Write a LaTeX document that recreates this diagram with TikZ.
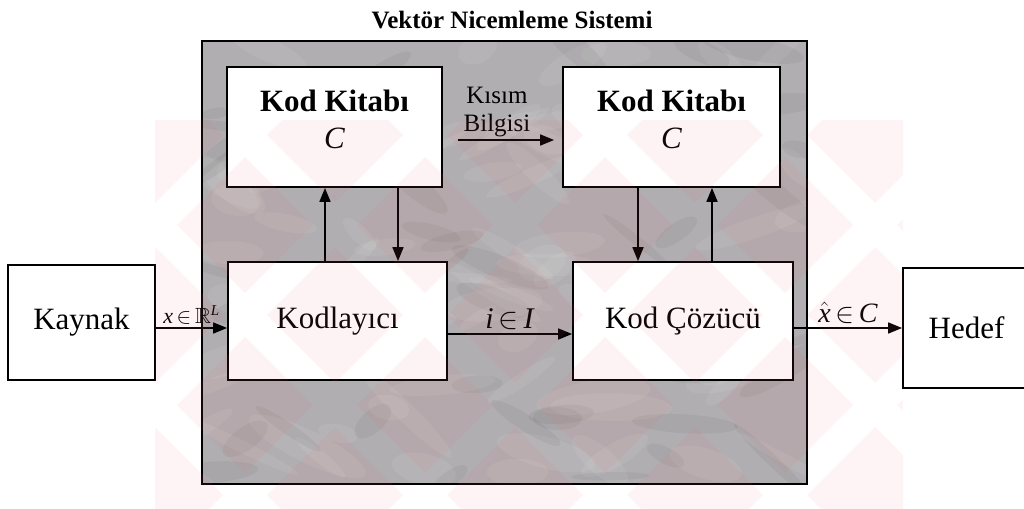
\RequirePackage{fix-cm}
\documentclass[tikz,border=0pt]{standalone}
\usepackage{amssymb}
\usepackage{fontspec}
\setmainfont{Liberation Serif}
\usetikzlibrary{arrows.meta,calc}

\definecolor{vqgray}{RGB}{176,174,176}
\definecolor{wmpink}{RGB}{240,110,125}

\begin{document}
\begin{tikzpicture}[x=1pt,y=-1pt,
  box/.style={draw,line width=1.8pt,fill=white,inner sep=0pt},
  reg/.style={font=\fontsize{31}{36}\selectfont},
  arr/.style={line width=1.7pt,-{Triangle[length=14pt,width=11pt]}},
  wm/.style={fill=wmpink,opacity=0.08},
]
\useasboundingbox (0,0) rectangle (1024,508);
\clip (0,0) rectangle (1024,508);

% title
\node[font=\bfseries\fontsize{25}{30}\selectfont] (title) at (512,20) {Vektör Nicemleme Sistemi};

% grey system frame with a mottled texture
\node[fill=vqgray,minimum width=605pt,minimum height=443pt,inner sep=0pt] (vq) at (504.5,262.5) {};
\begin{scope}
  \clip (vq.north west) rectangle (vq.south east);
  \pgfmathsetseed{11}
  \foreach \i in {1,...,90}{
    \pgfmathsetmacro\px{202+605*rnd}
    \pgfmathsetmacro\py{41+443*rnd}
    \pgfmathsetmacro\rx{20+45*rnd}
    \pgfmathsetmacro\ry{5+12*rnd}
    \pgfmathsetmacro\ang{-45+90*rnd}
    \fill[white,opacity=0.07,rotate around={\ang:(\px,\py)}] (\px,\py) ellipse ({\rx pt} and {\ry pt});
  }
  \foreach \i in {1,...,60}{
    \pgfmathsetmacro\px{202+605*rnd}
    \pgfmathsetmacro\py{41+443*rnd}
    \pgfmathsetmacro\rx{15+40*rnd}
    \pgfmathsetmacro\ry{4+10*rnd}
    \pgfmathsetmacro\ang{-45+90*rnd}
    \fill[black,opacity=0.045,rotate around={\ang:(\px,\py)}] (\px,\py) ellipse ({\rx pt} and {\ry pt});
  }
\end{scope}
\draw[line width=1.5pt] (vq.north west) rectangle (vq.south east);

% blocks
\node[box,reg,minimum width=147pt,minimum height=115pt] (src) at (81.5,322.5) {Kaynak};
\node[box,reg,minimum width=127pt,minimum height=120pt] (dst) at (966.5,328) {Hedef};
\node[box,reg,minimum width=219pt,minimum height=118pt] (enc) at (337.5,321) {Kodlayıcı};
\node[box,reg,minimum width=220pt,minimum height=118pt] (dec) at (683,321) {Kod Çözücü};
\node[box,minimum width=215pt,minimum height=120pt] (kk1) at (334.5,127) {};
\node[box,minimum width=217pt,minimum height=120pt] (kk2) at (671.5,127) {};
\node[align=center,font=\fontsize{31}{37}\selectfont] (kk1t) at ([yshift=8pt]kk1.center)
  {\textbf{Kod Kitabı}\\\textit{C}};
\node[align=center,font=\fontsize{31}{37}\selectfont] (kk2t) at ([yshift=8pt]kk2.center)
  {\textbf{Kod Kitabı}\\\textit{C}};

% side information
\node[align=center,font=\fontsize{25}{28}\selectfont,inner sep=0pt] (kb) at (497,112) {Kısım\\Bilgisi};
\coordinate (kbs) at (458,140);
\draw[arr,shorten >=8pt] (kbs) -- (kbs -| kk2.west);

% main signal path
\coordinate (ya) at (0,328);
\coordinate (yb) at (0,334);
\draw[arr] (src.east |- ya) -- (enc.west |- ya)
  node[midway,above,inner sep=3pt,font=\fontsize{22}{24}\selectfont] (lx)
  {\textit{x}\,$\in$\,$\mathbb{R}^{\mbox{\fontsize{15}{16}\selectfont\itshape L}}$};
\draw[arr] (enc.east |- yb) -- (dec.west |- yb)
  node[midway,above,inner sep=3pt,font=\fontsize{30}{34}\selectfont] (li)
  {\textit{i}\,$\in$\,\textit{I}};
\draw[arr] (dec.east |- ya) -- (dst.west |- ya)
  node[midway,above,inner sep=4pt,font=\fontsize{28}{32}\selectfont] (lxh)
  {$\hat{\mbox{\itshape x}}$\,$\in$\,\textit{C}};

% codebook look-ups
\coordinate (c1) at (325,0);
\coordinate (c2) at (398,0);
\coordinate (c3) at (638,0);
\coordinate (c4) at (712,0);
\draw[arr] (enc.north -| c1) -- (kk1.south -| c1);
\draw[arr] (kk1.south -| c2) -- (enc.north -| c2);
\draw[arr] (kk2.south -| c3) -- (dec.north -| c3);
\draw[arr] (dec.north -| c4) -- (kk2.south -| c4);

% faint diagonal lattice over the lower part
\begin{scope}
  \clip (155,120) rectangle (903,508);
  \foreach \a in {-2,...,5}{
    \foreach \b in {-3,...,4}{
      \pgfmathsetmacro\sa{560+180*\a+22}
      \pgfmathsetmacro\sb{560+180*(\a+1)-22}
      \pgfmathsetmacro\da{110+180*\b+22}
      \pgfmathsetmacro\db{110+180*(\b+1)-22}
      \fill[wm] ({(\sa+\da)/2},{(\sa-\da)/2}) -- ({(\sb+\da)/2},{(\sb-\da)/2})
        -- ({(\sb+\db)/2},{(\sb-\db)/2}) -- ({(\sa+\db)/2},{(\sa-\db)/2}) -- cycle;
    }
  }
\end{scope}
\end{tikzpicture}
\end{document}
